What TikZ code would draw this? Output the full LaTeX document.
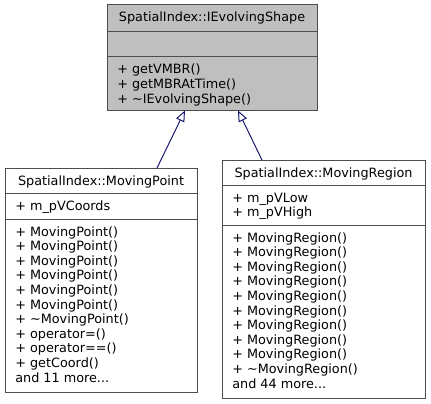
\documentclass[tikz,border=0pt]{standalone}
\usepackage{fontspec}
\setmainfont{DejaVu Sans}
\usetikzlibrary{arrows.meta}
\definecolor{edgecol}{HTML}{191970}
\definecolor{boxline}{HTML}{4D4D4D}
\definecolor{hlfill}{HTML}{BFBFBF}
\begin{document}
\begin{tikzpicture}[x=1pt,y=-1pt,
  every node/.style={inner sep=0pt,outer sep=0pt,font=\fontsize{12.8}{14.6}\selectfont},
  umlbox/.style={draw=boxline,line width=1pt,rectangle,anchor=north west},
  sepline/.style={draw=boxline,line width=1pt},
  txt/.style={anchor=base west},
  ttl/.style={anchor=base},
  inherit/.style={draw=edgecol,line width=1pt,-{Triangle[open,length=11pt,width=9pt]}}]
\useasboundingbox (0,0) rectangle (431,404);
% ---- base class
\node[umlbox,fill=hlfill,minimum width=210pt,minimum height=105pt] (ies) at (107,5) {};
\draw[sepline] (107,32) -- (317,32);
\draw[sepline] (107,57) -- (317,57);
\node[ttl] (iest) at (212,22) {SpatialIndex::IEvolvingShape};
\node[txt] (iem1) at (117.3,74) {+ getVMBR()};
\node[txt] (iem2) at (117.3,88.6) {+ getMBRAtTime()};
\node[txt] (iem3) at (117.3,103.2) {+ \textasciitilde IEvolvingShape()};
% ---- MovingPoint
\node[umlbox,minimum width=192pt,minimum height=224pt] (mp) at (5,168) {};
\draw[sepline] (5,193) -- (197,193);
\draw[sepline] (5,219) -- (197,219);
\node[ttl] (mpt) at (101,185) {SpatialIndex::MovingPoint};
\node[txt] (mpa1) at (15.3,210) {+ m\_pVCoords};
\foreach \t [count=\i from 0] in {{+ MovingPoint()},{+ MovingPoint()},{+ MovingPoint()},{+ MovingPoint()},{+ MovingPoint()},{+ MovingPoint()},{+ \textasciitilde MovingPoint()},{+ operator=()},{+ operator==()},{+ getCoord()}}
  \node[txt] (mpm\i) at (15.3,236+14.6*\i) {\t};
\node[txt] (mpmore) at (15.3,382) {and 11 more...};
% ---- MovingRegion
\node[umlbox,minimum width=203pt,minimum height=238pt] (mr) at (222,160) {};
\draw[sepline] (222,185) -- (425,185);
\draw[sepline] (222,225) -- (425,225);
\node[ttl] (mrt) at (323.5,177) {SpatialIndex::MovingRegion};
\node[txt] (mra1) at (232.3,202) {+ m\_pVLow};
\node[txt] (mra2) at (232.3,216.6) {+ m\_pVHigh};
\foreach \t [count=\i from 0] in {{+ MovingRegion()},{+ MovingRegion()},{+ MovingRegion()},{+ MovingRegion()},{+ MovingRegion()},{+ MovingRegion()},{+ MovingRegion()},{+ MovingRegion()},{+ MovingRegion()},{+ \textasciitilde MovingRegion()}}
  \node[txt] (mrm\i) at (232.3,242+14.6*\i) {\t};
\node[txt] (mrmore) at (232.3,388) {and 44 more...};
% ---- inheritance arrows
\coordinate (mptop) at (157,168);
\coordinate (iesl) at (185,110.5);
\coordinate (mrtop) at (262,160);
\coordinate (iesr) at (238,110.5);
\draw[inherit] (mptop) -- (iesl);
\draw[inherit] (mrtop) -- (iesr);
\end{tikzpicture}
\end{document}
